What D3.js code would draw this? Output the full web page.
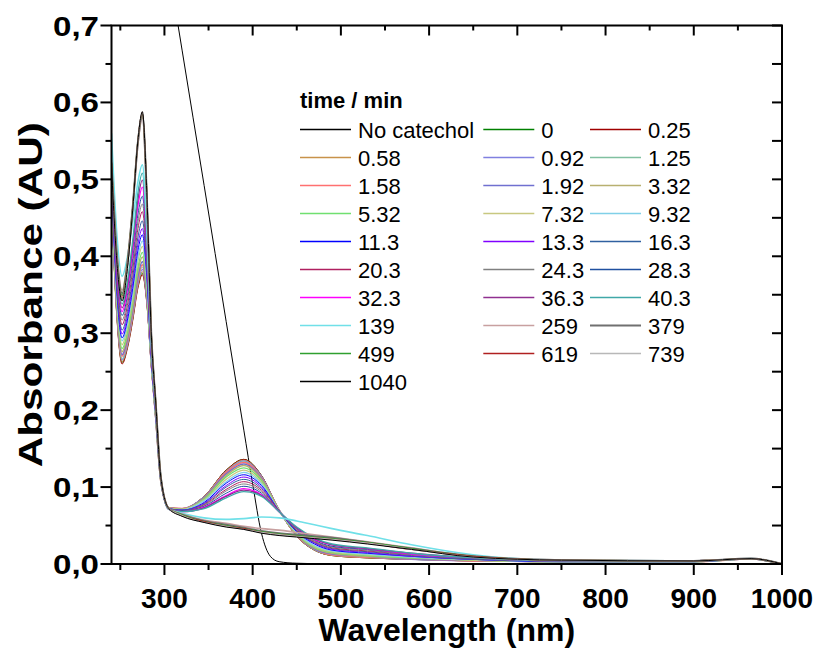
<!DOCTYPE html>
<meta charset="utf-8">
<script src="https://d3js.org/d3.v7.min.js"></script>
<style>
  body {
    margin: 0;
    background: #fff;
    font-family: 'Liberation Sans', Arial, sans-serif;
  }
</style>
<body>
<svg width="819" height="648"></svg>
</body>
<script>

var wavelengths = [240, 246, 252, 258, 264, 270, 275, 280, 285, 290, 296, 305, 320, 345, 370, 390, 410, 430, 450, 470, 490, 530, 580, 650, 750, 900, 965, 1000];

// absorbance for each time (min)
var t0     = [.470,.324,.262,.282,.318,.361,.378,.340,.260,.191,.106,.073,.072,.088,.122,.136,.115,.070,.036,.018,.011,.008,.006,.004,.003,.003,.0065,0];
var t0_25  = [.468,.322,.260,.280,.316,.359,.376,.339,.259,.191,.106,.073,.072,.088,.122,.136,.115,.070,.036,.018,.011,.008,.006,.004,.003,.003,.0065,0];
var t0_58  = [.472,.326,.263,.283,.319,.362,.380,.342,.260,.191,.106,.073,.072,.088,.121,.135,.114,.070,.036,.018,.011,.008,.006,.004,.003,.003,.0065,0];
var t0_92  = [.474,.328,.265,.285,.322,.365,.383,.344,.261,.191,.107,.073,.072,.087,.120,.134,.114,.070,.037,.019,.012,.009,.006,.004,.003,.003,.0065,0];
var t1_25  = [.476,.330,.267,.287,.324,.368,.386,.346,.261,.192,.107,.073,.072,.087,.119,.133,.113,.070,.037,.019,.012,.009,.007,.004,.003,.003,.0065,0];
var t1_58  = [.478,.332,.270,.290,.327,.371,.389,.348,.262,.192,.107,.073,.072,.086,.119,.132,.112,.070,.037,.020,.012,.009,.007,.004,.003,.003,.0065,0];
var t1_92  = [.480,.334,.272,.293,.330,.375,.393,.350,.263,.192,.107,.073,.071,.086,.117,.130,.111,.070,.038,.020,.013,.010,.007,.005,.003,.003,.0066,0];
var t3_32  = [.483,.338,.276,.297,.335,.381,.399,.355,.264,.193,.107,.073,.071,.085,.115,.128,.110,.070,.038,.021,.014,.010,.008,.005,.003,.003,.0066,0];
var t5_32  = [.486,.342,.280,.301,.340,.386,.405,.359,.265,.194,.108,.072,.071,.084,.113,.125,.108,.069,.039,.022,.015,.011,.008,.005,.003,.003,.0066,0];
var t7_32  = [.489,.346,.285,.307,.346,.394,.413,.364,.267,.194,.108,.072,.071,.083,.110,.122,.106,.069,.040,.023,.016,.012,.009,.005,.003,.003,.0067,0];
var t9_32  = [.492,.351,.290,.312,.352,.400,.420,.369,.268,.195,.108,.072,.070,.082,.107,.119,.104,.069,.041,.024,.017,.013,.009,.006,.003,.003,.0067,0];
var t11_3  = [.495,.354,.294,.317,.358,.408,.428,.374,.270,.196,.108,.072,.070,.080,.105,.116,.102,.069,.042,.026,.018,.014,.010,.006,.003,.003,.0067,0];
var t13_3  = [.498,.359,.299,.322,.365,.416,.436,.380,.271,.197,.109,.072,.070,.079,.102,.113,.100,.069,.043,.027,.019,.015,.010,.006,.004,.004,.0068,0];
var t16_3  = [.501,.363,.304,.328,.372,.425,.446,.386,.273,.198,.109,.072,.070,.078,.100,.110,.098,.069,.043,.028,.020,.016,.011,.006,.004,.004,.0068,0];
var t20_3  = [.504,.369,.311,.336,.382,.436,.458,.395,.276,.199,.109,.072,.069,.077,.097,.107,.096,.069,.044,.029,.021,.017,.012,.007,.004,.004,.0068,0];
var t24_3  = [.507,.374,.317,.343,.390,.445,.468,.401,.278,.200,.110,.072,.069,.076,.095,.104,.094,.068,.045,.030,.022,.018,.012,.007,.004,.004,.0069,0];
var t28_3  = [.510,.379,.323,.349,.397,.455,.478,.408,.280,.201,.110,.071,.069,.075,.092,.101,.092,.068,.046,.031,.023,.019,.013,.007,.004,.004,.0069,0];
var t32_3  = [.513,.384,.328,.356,.406,.466,.490,.416,.282,.202,.110,.071,.068,.074,.089,.098,.090,.068,.047,.032,.025,.020,.013,.008,.004,.004,.007,0];
var t36_3  = [.516,.388,.333,.361,.413,.474,.499,.423,.284,.203,.110,.071,.068,.073,.088,.096,.089,.068,.047,.033,.025,.020,.014,.008,.004,.004,.007,0];
var t40_3  = [.519,.392,.338,.367,.420,.483,.508,.429,.286,.204,.110,.071,.068,.072,.086,.094,.088,.068,.048,.034,.026,.021,.014,.008,.004,.004,.007,0];
var t139   = [.560,.430,.374,.399,.444,.497,.519,.436,.288,.205,.112,.071,.066,.060,.058,.059,.061,.060,.056,.051,.046,.037,.025,.012,.005,.004,.007,0];
var t259   = [.525,.407,.356,.394,.464,.546,.580,.478,.300,.211,.112,.072,.065,.057,.053,.049,.046,.044,.041,.038,.035,.029,.021,.010,.005,.004,.007,0];
var t379   = [.522,.403,.352,.391,.463,.549,.584,.480,.301,.211,.112,.072,.064,.056,.051,.047,.043,.040,.038,.036,.034,.028,.020,.010,.005,.004,.007,0];
var t499   = [.521,.401,.349,.389,.463,.551,.586,.482,.301,.212,.112,.072,.064,.055,.050,.046,.042,.039,.037,.035,.033,.028,.020,.010,.005,.004,.007,0];
var t619   = [.520,.398,.346,.387,.462,.551,.587,.482,.301,.212,.112,.072,.063,.055,.049,.046,.041,.038,.036,.034,.032,.027,.019,.010,.005,.004,.007,0];
var t739   = [.519,.397,.344,.385,.461,.551,.587,.482,.301,.212,.112,.072,.063,.054,.049,.045,.041,.038,.036,.034,.032,.027,.019,.009,.005,.004,.007,0];
var t1040  = [.518,.395,.342,.384,.460,.551,.588,.483,.302,.212,.112,.072,.062,.054,.048,.045,.040,.037,.035,.033,.031,.026,.019,.009,.005,.004,.007,0];

var timeLabels = ["0", "0.25", "0.58", "0.92", "1.25", "1.58", "1.92", "3.32", "5.32", "7.32", "9.32",
  "11.3", "13.3", "16.3", "20.3", "24.3", "28.3", "32.3", "36.3", "40.3", "139", "259", "379", "499",
  "619", "739", "1040"];
var timeSpectra = [t0, t0_25, t0_58, t0_92, t1_25, t1_58, t1_92, t3_32, t5_32, t7_32, t9_32,
  t11_3, t13_3, t16_3, t20_3, t24_3, t28_3, t32_3, t36_3, t40_3, t139, t259, t379, t499,
  t619, t739, t1040];

// reference without catechol (goes off the top of the plot)
var noCatWl  = [300, 320, 345, 370, 390, 400, 410, 420, 430, 450, 500, 600, 800, 1000];
var noCatAbs = [0.81, 0.668, 0.492, 0.315, 0.174, 0.104, 0.040, 0.010, 0.003, 0.001, 0, 0, 0, 0];

var xTicks = [300, 400, 500, 600, 700, 800, 900, 1000];
var yTicks = [0, 0.1, 0.2, 0.3, 0.4, 0.5, 0.6, 0.7];

// line colours / widths in legend order (No catechol first)
var colors = ["#000000", "#008000", "#a00000", "#c8924a", "#8080e0", "#80c0a0", "#ff7070", "#7070d0",
  "#b8b070", "#70e070", "#c8c880", "#80d0e8", "#0000ff", "#8000ff", "#3060a0", "#b02060", "#808080",
  "#2050a0", "#ff00ff", "#903090", "#40a8a8", "#70e0e8", "#c8a0a0", "#707070", "#30a030", "#b02020",
  "#b8b8b8", "#000000"];
var widths = [1, 1, 1, 1, 1.3, 1, 1.6, 1.6, 1.6, 1.3, 1.3, 1.3, 1, 1, 1, 1, 1, 1, 1.3, 1.3, 1.3, 1.6, 1.6, 2, 1.3, 1.3, 1.3, 1];

var svg = d3.select("svg"),
    pLeft = 111.5, pRight = 782, pTop = 25.5, pBottom = 564;

var x = d3.scaleLinear().domain([240, 1000]).range([pLeft, pRight]);
var y = d3.scaleLinear().domain([0, 0.7]).range([pBottom, pTop]);

svg.append("clipPath").attr("id", "plotclip")
  .append("rect")
    .attr("x", pLeft).attr("y", pTop)
    .attr("width", pRight - pLeft).attr("height", pBottom - pTop);

var line = d3.line()
    .x(function(d) { return x(d[0]); })
    .y(function(d) { return y(d[1]); })
    .curve(d3.curveMonotoneX);

var series = [{pts: d3.zip(noCatWl, noCatAbs), i: 0}];
timeSpectra.forEach(function(s, k) {
  series.push({pts: d3.zip(wavelengths, s), i: k + 1});
});

svg.append("g")
    .attr("clip-path", "url(#plotclip)")
  .selectAll("path")
  .data(series)
  .enter().append("path")
    .attr("fill", "none")
    .attr("stroke", function(d) { return colors[d.i]; })
    .attr("stroke-width", function(d) { return widths[d.i]; })
    .attr("stroke-linejoin", "round")
    .attr("d", function(d) { return line(d.pts); });

// axes: ticks outside on left/bottom, inside on top/right
var fmt = function(d) { return d3.format(".1f")(d).replace(".", ","); };
var xMinor = d3.range(250, 1000, 100);
var yMinor = d3.range(0.05, 0.7, 0.1);

var axes = svg.append("g").attr("stroke", "#000").attr("stroke-width", 2);
axes.append("rect")
    .attr("x", pLeft).attr("y", pTop)
    .attr("width", pRight - pLeft).attr("height", pBottom - pTop)
    .attr("fill", "none");

axes.selectAll(".xmaj").data(xTicks).enter().append("line")
    .attr("x1", x).attr("x2", x).attr("y1", pBottom).attr("y2", pBottom + 11);
axes.selectAll(".xmin").data(xMinor).enter().append("line")
    .attr("x1", x).attr("x2", x).attr("y1", pBottom).attr("y2", pBottom + 6);
axes.selectAll(".xtop").data(xTicks).enter().append("line")
    .attr("x1", x).attr("x2", x).attr("y1", pTop).attr("y2", pTop + 10);
axes.selectAll(".xtopmin").data(xMinor).enter().append("line")
    .attr("x1", x).attr("x2", x).attr("y1", pTop).attr("y2", pTop + 5);

axes.selectAll(".ymaj").data(yTicks).enter().append("line")
    .attr("y1", y).attr("y2", y).attr("x1", pLeft).attr("x2", pLeft - 11);
axes.selectAll(".ymin").data(yMinor).enter().append("line")
    .attr("y1", y).attr("y2", y).attr("x1", pLeft).attr("x2", pLeft - 6);
axes.selectAll(".yright").data(yTicks.concat(yMinor)).enter().append("line")
    .attr("y1", y).attr("y2", y).attr("x1", pRight).attr("x2", pRight - 10);

svg.append("g")
    .attr("font-size", 28).attr("font-weight", "bold").attr("text-anchor", "middle")
  .selectAll("text").data(xTicks).enter().append("text")
    .attr("x", x).attr("y", 608)
    .text(function(d) { return d; });

// y labels are drawn a bit wider than the x ones in the original
svg.append("g")
    .attr("font-size", 28).attr("font-weight", "bold").attr("text-anchor", "end")
  .selectAll("text").data(yTicks).enter().append("text")
    .attr("x", 99).attr("y", function(d) { return y(d) + 10; })
    .attr("textLength", 46).attr("lengthAdjust", "spacingAndGlyphs")
    .text(fmt);

svg.append("text")
    .attr("x", (pLeft + pRight) / 2).attr("y", 641)
    .attr("text-anchor", "middle")
    .attr("font-size", 32).attr("font-weight", "bold")
    .text("Wavelength (nm)");

svg.append("text")
    .attr("transform", "translate(42," + ((pTop + pBottom) / 2) + ") rotate(-90)")
    .attr("text-anchor", "middle")
    .attr("font-size", 33).attr("font-weight", "bold")
    .attr("textLength", 345).attr("lengthAdjust", "spacingAndGlyphs")
    .text("Absorbance (AU)");

// legend, 3 columns filled row by row
var legendNames = ["No catechol"].concat(timeLabels);
var colX = [300, 483.3, 590];

svg.append("text")
    .attr("x", 300).attr("y", 108)
    .attr("font-size", 22).attr("font-weight", "bold")
    .text("time / min");

var legend = svg.append("g")
  .selectAll("g")
  .data(legendNames)
  .enter().append("g")
    .attr("transform", function(d, i) {
      return "translate(" + colX[i % 3] + "," + (129.5 + Math.floor(i / 3) * 28) + ")";
    });

legend.append("line")
    .attr("x1", 0).attr("x2", 51)
    .attr("stroke", function(d, i) { return colors[i]; })
    .attr("stroke-width", function(d, i) { return Math.max(1.5, widths[i]); });

legend.append("text")
    .attr("x", 58).attr("y", 8)
    .attr("font-size", 22)
    .text(function(d) { return d; });

</script>
